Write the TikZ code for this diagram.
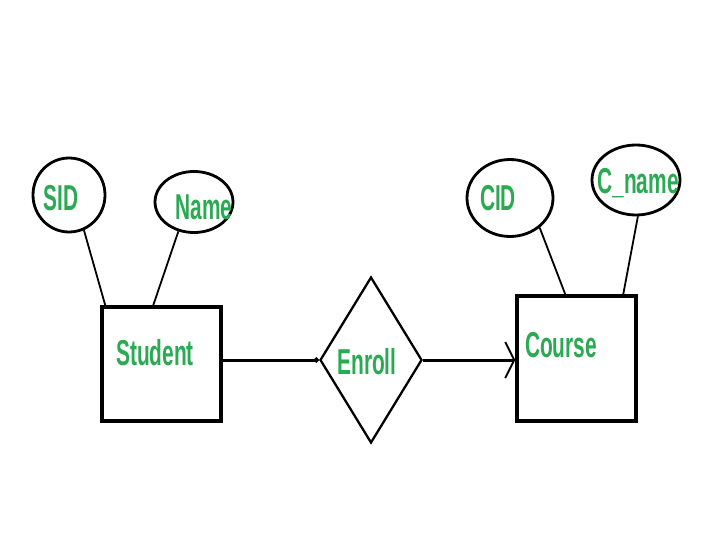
\documentclass[tikz,border=0pt]{standalone}
\usepackage{fontspec}
\newfontfamily\erfont[FakeStretch=0.58]{Liberation Sans}
\usetikzlibrary{shapes.geometric,arrows.meta,calc}
\definecolor{ergreen}{RGB}{42,170,82}
\begin{document}
\begin{tikzpicture}[x=1pt,y=-1pt,
  entitybox/.style={draw,line width=3.5pt,rectangle,inner sep=0pt},
  attrell/.style={draw,line width=2.8pt,ellipse,inner sep=0pt},
  relshape/.style={draw,line width=2.3pt,diamond,inner sep=0pt},
  ertext/.style={text=ergreen,font=\erfont\bfseries\fontsize{36}{36}\selectfont,inner sep=0pt},
  attrline/.style={line width=1.8pt},
  conn/.style={line width=3pt}]
\useasboundingbox (0,0) rectangle (720,540);
\fill[white] (0,0) rectangle (720,540);
% entities
\node[entitybox,minimum width=119pt,minimum height=114pt] (student) at (161.5,364) {};
\node[entitybox,minimum width=119pt,minimum height=125pt] (course) at (576.5,358.5) {};
\node[ertext] (studenttxt) at (155,353) {Student};
\node[ertext] (coursetxt) at (561,345) {Course};
% relationship
\node[relshape,minimum width=102pt,minimum height=166pt] (enroll) at (371,360) {};
\node[ertext] (enrolltxt) at (367,362) {Enroll};
% attributes
\node[attrell,minimum width=72pt,minimum height=74pt] (sid) at (69,195) {};
\node[ertext] (sidtxt) at (61,198) {SID};
\node[attrell,minimum width=78pt,minimum height=61pt] (name) at (194,202) {};
\node[ertext] (nametxt) at (204,207) {Name};
\node[attrell,minimum width=86pt,minimum height=77pt] (cid) at (510,198) {};
\node[ertext] (cidtxt) at (498,198) {CID};
\node[attrell,minimum width=88pt,minimum height=70pt] (cname) at (636,180) {};
\node[ertext] (cnametxt) at (638,183) {C\_name};
% attribute lines
\draw[attrline] (sid.-67) -- ($(student.north west)+(5,0)$);
\draw[attrline] (name.-118) -- ($(student.north west)+(53,0)$);
\draw[attrline] (cid.-45) -- ($(course.north west)+(50,0)$);
\draw[attrline] (cname.-87) -- ($(course.north west)+(108,0)$);
% connectors
\draw[conn,-{Circle[length=5pt]}] (enroll.west -| student.east) -- (enroll.west);
\draw[conn,-{Straight Barb[length=9pt,width=36pt,line width=1.8pt]}] (enroll.east) -- (enroll.east -| course.west);
\end{tikzpicture}
\end{document}
